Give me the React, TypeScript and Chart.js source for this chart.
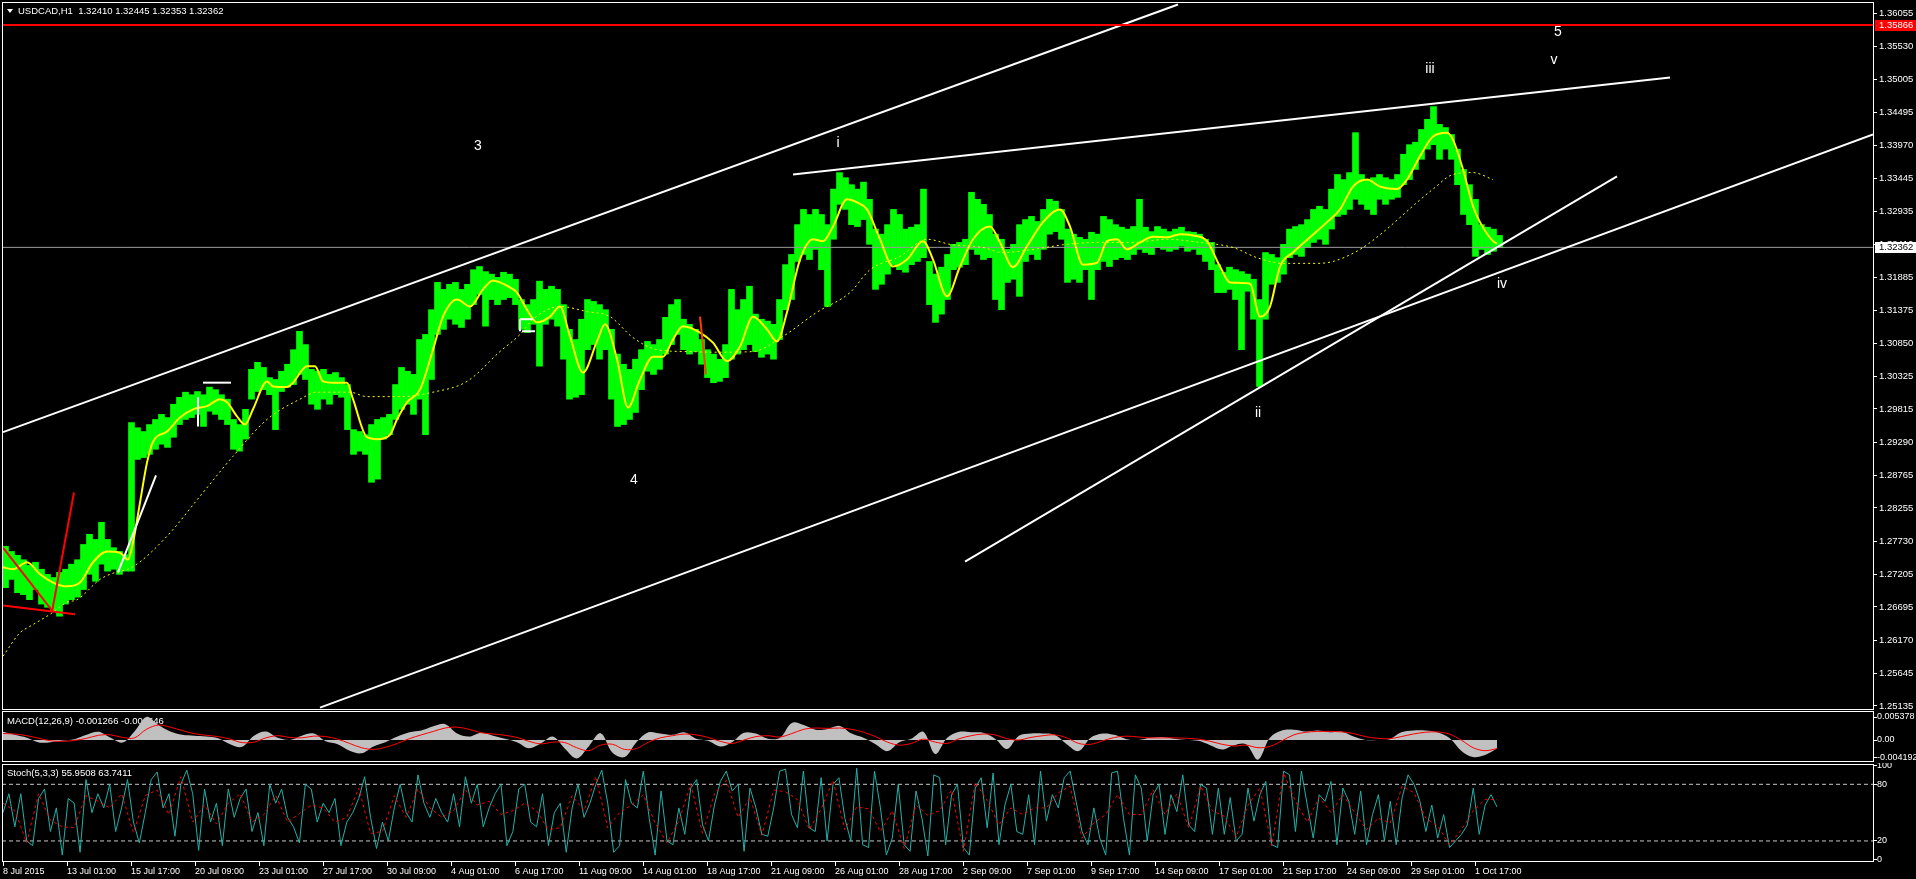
import React, { useEffect, useRef } from 'react';
import { Chart, registerables } from 'chart.js';

Chart.register(...registerables);

const FONT = 'Liberation Sans';
const X_MIN = -1;
const X_MAX = 1870;
const LAST_BAR = 1494;
const BUCKET = 6;

// ---- Price (H1 bars grouped by 6 hours), values in 0.0001 units ----
const HIGH_PIPS = [
  12765, 12757, 12751, 12744, 12735, 12740, 12729, 12721, 12716, 12724,
  12729, 12737, 12744, 12768, 12784, 12776, 12803, 12776, 12763, 12757,
  12752, 12960, 12952, 12946, 12957, 12965, 12973, 12968, 12989, 13000,
  13008, 13004, 13009, 13004, 13016, 13012, 13004, 12997, 12965, 12957,
  12981, 13044, 13055, 13047, 13031, 13028, 13041, 13052, 13075, 13104,
  13083, 13044, 13041, 13044, 13036, 13039, 13031, 13020, 12949, 12946,
  12941, 12957, 12965, 12968, 12973, 13020, 13047, 13041, 13036, 13091,
  13099, 13138, 13181, 13170, 13178, 13181, 13170, 13178, 13201, 13206,
  13198, 13194, 13189, 13197, 13194, 13186, 13154, 13146, 13154, 13183,
  13170, 13175, 13170, 13146, 13107, 13091, 13123, 13154, 13151, 13146,
  13138, 13107, 13068, 13052, 13044, 13060, 13075, 13088, 13083, 13091,
  13126, 13146, 13154, 13123, 13115, 13107, 13091, 13075, 13068, 13060,
  13083, 13170, 13138, 13154, 13175, 13131, 13123, 13120, 13115, 13154,
  13209, 13225, 13272, 13296, 13288, 13296, 13288, 13272, 13328, 13354,
  13346, 13335, 13328, 13339, 13312, 13265, 13257, 13272, 13296, 13288,
  13265, 13268, 13272, 13328, 13214, 13194, 13205, 13225, 13241, 13244,
  13249, 13323, 13312, 13304, 13288, 13257, 13249, 13233, 13241, 13272,
  13280, 13285, 13277, 13296, 13312, 13309, 13296, 13265, 13257, 13252,
  13249, 13260, 13257, 13285, 13280, 13272, 13268, 13265, 13269, 13312,
  13268, 13261, 13269, 13265, 13261, 13265, 13268, 13261, 13260, 13257,
  13249, 13244, 13209, 13197, 13205, 13201, 13198, 13194, 13186, 13154,
  13228, 13225, 13220, 13241, 13265, 13269, 13272, 13280, 13296, 13301,
  13296, 13328, 13351, 13343, 13354, 13417, 13351, 13343, 13346, 13351,
  13346, 13343, 13351, 13383, 13398, 13402, 13422, 13438, 13458, 13430,
  13425, 13414, 13391, 13359, 13335, 13312, 13272, 13268, 13265, 13255,
];
const LOW_PIPS = [
  12700, 12713, 12692, 12689, 12681, 12697, 12674, 12669, 12662, 12655,
  12674, 12681, 12685, 12697, 12721, 12710, 12737, 12726, 12729, 12721,
  12726, 12726, 12902, 12905, 12910, 12918, 12926, 12921, 12937, 12957,
  12965, 12968, 12973, 12954, 12978, 12973, 12965, 12957, 12918, 12915,
  12934, 12997, 13009, 13012, 13004, 12949, 13009, 13016, 13020, 13036,
  13028, 12989, 12981, 12997, 12989, 13004, 13000, 12949, 12910, 12915,
  12910, 12866, 12871, 12934, 12941, 12965, 12981, 12989, 12973, 12997,
  12941, 13028, 13099, 13107, 13123, 13115, 13110, 13123, 13146, 13162,
  13112, 13154, 13146, 13154, 13157, 13146, 13107, 13102, 13115, 13049,
  13115, 13123, 13112, 13060, 12997, 13000, 13004, 13075, 13083, 13060,
  13075, 12997, 12954, 12957, 12965, 12976, 13012, 13041, 13036, 13044,
  13068, 13083, 13099, 13075, 13068, 13072, 13052, 13031, 13023, 13025,
  13031, 13060, 13068, 13075, 13083, 13072, 13063, 13068, 13060, 13091,
  13138, 13154, 13214, 13225, 13217, 13233, 13201, 13143, 13249, 13304,
  13296, 13272, 13269, 13280, 13241, 13170, 13178, 13194, 13209, 13201,
  13197, 13209, 13214, 13220, 13146, 13118, 13131, 13154, 13201, 13205,
  13209, 13233, 13225, 13217, 13220, 13154, 13138, 13181, 13186, 13159,
  13214, 13225, 13217, 13233, 13257, 13261, 13249, 13181, 13186, 13181,
  13201, 13154, 13201, 13214, 13206, 13217, 13220, 13217, 13225, 13233,
  13228, 13225, 13236, 13233, 13230, 13233, 13238, 13230, 13233, 13225,
  13214, 13201, 13165, 13165, 13170, 13154, 13075, 13167, 13123, 13017,
  13123, 13178, 13181, 13194, 13220, 13225, 13222, 13236, 13244, 13249,
  13241, 13265, 13285, 13288, 13296, 13312, 13304, 13296, 13288, 13312,
  13304, 13312, 13315, 13335, 13343, 13359, 13375, 13391, 13398, 13375,
  13391, 13375, 13335, 13288, 13272, 13222, 13233, 13225, 13230, 13236,
];

// ---- Moving averages (bar index, price in 0.0001 units) ----
const FAST_MA_BARS = [
  0, 10, 24, 37, 50, 64, 77, 90, 104, 117, 125, 130, 137, 144, 150, 164, 177, 190, 204, 217,
  224, 234, 242, 250, 264, 270, 284, 290, 304, 312, 320, 330, 344, 350, 364, 374, 387, 394, 404, 417,
  430, 440, 454, 467, 480, 490, 497, 507, 514, 524, 534, 547, 557, 567, 580, 594, 602, 614, 625, 637,
  650, 660, 670, 680, 697, 710, 724, 737, 750, 764, 774, 784, 797, 810, 820, 830, 844, 854, 864, 877,
  890, 904, 920, 930, 944, 957, 970, 987, 997, 1010, 1024, 1040, 1057, 1067, 1080, 1094, 1104, 1114, 1124, 1137,
  1150, 1164, 1177, 1190, 1204, 1217, 1227, 1247, 1257, 1267, 1277, 1290, 1307, 1324, 1337, 1350, 1364, 1377, 1394, 1404,
  1417, 1430, 1444, 1450, 1460, 1470, 1477, 1490, 1494,
];
const FAST_MA_PIPS = [
  12732, 12729, 12740, 12721, 12708, 12702, 12708, 12740, 12757, 12755, 12744, 12771, 12834, 12897, 12930, 12946, 12968, 12981, 12986, 12997,
  12992, 12970, 12957, 12981, 13025, 13017, 13016, 13023, 13049, 13049, 13025, 13023, 13023, 12997, 12937, 12934, 12941, 12965, 12992, 13012,
  13075, 13127, 13154, 13143, 13170, 13184, 13181, 13173, 13165, 13138, 13118, 13127, 13143, 13096, 13039, 13088, 13115, 13060, 12984, 13028,
  13064, 13064, 13091, 13112, 13102, 13086, 13057, 13080, 13127, 13107, 13088, 13134, 13217, 13249, 13246, 13269, 13312, 13307, 13296, 13249,
  13206, 13217, 13246, 13217, 13159, 13206, 13249, 13269, 13244, 13205, 13238, 13276, 13296, 13269, 13209, 13212, 13246, 13249, 13233, 13244,
  13253, 13252, 13257, 13255, 13246, 13206, 13181, 13179, 13127, 13143, 13206, 13228, 13252, 13276, 13296, 13332, 13343, 13332, 13328, 13343,
  13380, 13411, 13417, 13406, 13359, 13301, 13276, 13246, 13242,
];
const SLOW_MA_BARS = [
  0, 17, 27, 47, 64, 74, 97, 107, 130, 164, 197, 230, 264, 297, 314, 330, 347, 364, 397, 430,
  464, 497, 517, 530, 557, 584, 607, 630, 654, 684, 714, 750, 780, 814, 847, 867, 897, 924, 947, 980,
  1000, 1030, 1064, 1097, 1130, 1164, 1197, 1230, 1254, 1280, 1314, 1330, 1357, 1380, 1414, 1430, 1450, 1470, 1490,
];
const SLOW_MA_PIPS = [
  12592, 12629, 12639, 12658, 12677, 12681, 12713, 12721, 12733, 12781, 12844, 12907, 12965, 12997, 13008, 13008, 13008, 13001, 13001, 13008,
  13025, 13072, 13099, 13123, 13143, 13135, 13127, 13094, 13075, 13072, 13071, 13072, 13096, 13134, 13165, 13201, 13222, 13249, 13241, 13236,
  13228, 13233, 13241, 13244, 13244, 13249, 13244, 13236, 13220, 13211, 13211, 13214, 13233, 13260, 13307, 13328, 13351, 13354, 13343,
];

// ---- Drawn objects (bar index, price in 0.0001 units) ----
const TREND_LINES = [
  { from: [0, 12945], to: [1175, 13619], color: '#ffffff', width: 2 },
  { from: [317, 12511], to: [1870, 13414], color: '#ffffff', width: 2 },
  { from: [790, 13351], to: [1667, 13504], color: '#ffffff', width: 2 },
  { from: [962, 12741], to: [1614, 13348], color: '#ffffff', width: 2 },
  { from: [0, 12672], to: [72, 12658], color: '#ff0000', width: 2 },
  { from: [0, 12763], to: [50, 12662], color: '#ff0000', width: 2 },
  { from: [49, 12662], to: [71, 12850], color: '#ff0000', width: 2 },
  { from: [115, 12724], to: [153, 12877], color: '#ffffff', width: 2 },
  { from: [200, 13023], to: [228, 13023], color: '#ffffff', width: 2 },
  { from: [195, 13000], to: [195, 12954], color: '#ffffff', width: 2 },
  { from: [517, 13123], to: [530, 13123], color: '#ffffff', width: 2 },
  { from: [519, 13104], to: [532, 13104], color: '#ffffff', width: 2 },
  { from: [517, 13123], to: [517, 13104], color: '#ffffff', width: 2 },
  { from: [697, 13127], to: [703, 13036], color: '#ff3c00', width: 2 },
];
const WAVE_LABELS = [
  { text: '3', bar: 475, pips: 13395 },
  { text: '4', bar: 631, pips: 12869 },
  { text: 'i', bar: 835, pips: 13400 },
  { text: 'ii', bar: 1255, pips: 12975 },
  { text: 'iii', bar: 1427, pips: 13517 },
  { text: 'iv', bar: 1499, pips: 13179 },
  { text: 'v', bar: 1551, pips: 13531 },
  { text: '5', bar: 1555, pips: 13575 },
];
const RED_LEVEL = 1.35866;
const BID = 1.32362;

const PRICE_TICKS = [
  1.36055, 1.3553, 1.35005, 1.34495, 1.3397, 1.33445, 1.32935, 1.3241, 1.31885, 1.31375, 1.3085,
  1.30325, 1.29815, 1.2929, 1.28765, 1.28255, 1.2773, 1.27205, 1.26695, 1.2617, 1.25645, 1.25135,
];
const TIME_TICK_STEP = 64;
const TIME_LABELS = [
  '8 Jul 2015', '13 Jul 01:00', '15 Jul 17:00', '20 Jul 09:00', '23 Jul 01:00', '27 Jul 17:00',
  '30 Jul 09:00', '4 Aug 01:00', '6 Aug 17:00', '11 Aug 09:00', '14 Aug 01:00', '18 Aug 17:00',
  '21 Aug 09:00', '26 Aug 01:00', '28 Aug 17:00', '2 Sep 09:00', '7 Sep 01:00', '9 Sep 17:00',
  '14 Sep 09:00', '17 Sep 01:00', '21 Sep 17:00', '24 Sep 09:00', '29 Sep 01:00', '1 Oct 17:00',
];

// ---- MACD (0.0001 units), sampled evenly over the bars ----
const MACD_HIST = [
  19, 12, 5, -6, -5, -1, 2, 12, 19, 5, -6, 20, 54, 35, 20, 12, 10, 8, 4, -10,
  -16, 10, 20, 5, 0, 10, 15, -3, -10, -25, -31, -15, -5, 8, 18, 22, 32, 37, 15, 8,
  17, 10, 3, -5, -19, -8, 8, -20, -43, -15, 16, -30, -40, -5, 18, 15, 12, 18, 3, -2,
  -15, -5, 17, 15, 3, 5, 40, 35, 24, 26, 33, 15, 5, -10, -26, -5, 3, 19, -33, 5,
  19, 18, 17, 3, -21, 10, 15, 15, 12, -10, -26, 5, 15, 12, 2, 0, 5, 7, 3, 0,
  -2, -12, -22, -12, -10, -46, 5, 22, 24, 20, 22, 18, 20, 8, 0, 0, 2, 18, 22, 22,
  18, 5, -25, -40, -35, -20,
];
const MACD_SIGNAL = [
  15, 14, 10, 4, -2, -3, -1, 4, 11, 12, 6, 5, 25, 35, 30, 22, 15, 11, 8, 2,
  -6, -5, 5, 10, 6, 5, 9, 8, 2, -8, -18, -22, -17, -8, 3, 12, 20, 28, 30, 25,
  17, 14, 11, 6, -3, -9, -5, -6, -18, -25, -12, -10, -22, -20, -5, 5, 10, 14, 12, 6,
  -3, -8, 0, 8, 10, 7, 15, 25, 28, 27, 28, 25, 18, 8, -5, -12, -8, 2, -5, -8,
  3, 10, 14, 12, 3, 0, 6, 10, 12, 5, -8, -10, -2, 6, 9, 7, 5, 5, 5, 4,
  2, -3, -10, -14, -12, -18, -15, -2, 12, 18, 20, 20, 19, 15, 8, 4, 3, 8, 14, 18,
  19, 14, 0, -18, -25, -20,
];
const MACD_TICKS = [0.005378, 0, -0.004192];
const MACD_TICK_LABELS = ['0.005378', '0.00', '-0.004192'];

// ---- Stochastic ----
const STOCH_K = [
  50, 70, 35, 70, 20, 15, 65, 75, 30, 55, 5, 65, 60, 8, 85, 50, 70, 55, 80, 30,
  55, 85, 40, 18, 50, 85, 93, 55, 70, 25, 80, 95, 70, 10, 75, 40, 60, 15, 75, 45,
  65, 75, 30, 50, 15, 80, 60, 75, 45, 35, 18, 80, 75, 40, 60, 50, 65, 15, 40, 50,
  65, 88, 45, 12, 40, 20, 55, 80, 50, 40, 90, 60, 45, 65, 50, 40, 70, 35, 88, 60,
  80, 35, 55, 70, 80, 15, 30, 75, 80, 40, 35, 70, 15, 50, 60, 8, 55, 80, 45, 60,
  80, 95, 60, 8, 15, 85, 60,
  55, 94, 44, 5, 73, 20, 16, 55, 27, 76, 85, 37, 20, 58, 83, 94, 73, 80, 9, 76,
  55, 27, 25, 55, 94, 96, 48, 34, 94, 34, 30, 87, 20, 80, 87, 44, 20, 97, 16, 13,
  94, 55, 5, 23, 80, 16, 9, 73, 44, 4, 90, 87, 16, 69, 80, 13, 5, 76, 87, 34,
  92, 16, 58, 80, 30, 27, 69, 16, 94, 41, 69, 55, 87, 94, 62, 30, 16, 55, 23, 5,
  92, 94, 44, 5, 90, 76, 20, 69, 80, 27, 69, 51, 90, 37, 30, 80, 76, 27, 76, 27,
  66, 20, 27, 76, 41, 69, 83, 16, 13, 94, 90, 30, 94, 58, 23, 69, 62, 83, 16, 76,
  62, 27, 73, 16, 48, 69, 20, 62, 16, 66, 90, 80, 62, 30, 58, 23, 48, 13, 20, 27,
  37, 76, 27, 58, 69, 56,
];
const STOCH_D = [
  60, 52, 18, 70, 42, 35, 34, 68, 62, 55, 70, 29, 68, 74, 48, 88, 40, 58, 38, 60,
  70, 40, 48, 68, 40, 49, 58, 55, 40, 45, 76, 28, 30, 68, 45, 75, 55, 45, 52, 74,
  58, 62, 48, 52, 60, 52, 32, 34, 68, 52, 88, 34, 50, 58,
  69, 39, 18, 41, 80, 28, 70, 84, 45, 66, 26, 74, 72, 64, 32, 54, 84, 32, 56, 54,
  30, 52, 12, 58, 47, 52, 74, 9, 82, 63, 37, 55, 48, 55, 55, 71, 78, 23, 39, 48,
  69, 48, 48, 74, 48, 70, 34, 78, 52, 46, 24, 58, 76, 15, 92, 62, 40, 66, 50, 69,
  50, 32, 44, 39, 78, 71, 44, 36, 16, 32, 52, 64, 64,
];
const STOCH_LEVELS = [80, 20];
const STOCH_TICKS = [100, 80, 20, 0];

// ---------------------------------------------------------------------------
const toPrice = (p: number) => p / 10000;
const spread = (vals: number[]) => vals.map((v, i) => ({ x: (i * LAST_BAR) / (vals.length - 1), y: v }));

const commonOptions = {
  responsive: false,
  animation: false as const,
  devicePixelRatio: 1,
  events: [] as any[],
  plugins: { legend: { display: false }, tooltip: { enabled: false } },
};

const hiddenX = {
  type: 'linear' as const,
  min: X_MIN,
  max: X_MAX,
  offset: false,
  display: false,
};

function rightAxis(min: number, max: number, ticks: number[], labels: (v: number, i: number) => string, pad: number, size: number) {
  return {
    type: 'linear' as const,
    position: 'right' as const,
    min,
    max,
    afterBuildTicks: (s: any) => {
      s.ticks = ticks.map((v) => ({ value: v }));
    },
    afterFit: (s: any) => {
      s.width = 43;
      s.paddingTop = 0;
      s.paddingBottom = 0;
    },
    ticks: {
      autoSkip: false,
      color: '#ffffff',
      padding: pad,
      font: { family: FONT, size },
      callback: (v: any, i: number) => labels(Number(v), i),
    },
    grid: { drawOnChartArea: false, drawTicks: true, tickLength: 4, color: '#ffffff' },
    border: { display: false },
  };
}

const borderPlugin = {
  id: 'panelBorder',
  afterDraw(chart: any) {
    const { ctx, chartArea: a } = chart;
    ctx.save();
    ctx.strokeStyle = '#ffffff';
    ctx.lineWidth = 1;
    ctx.strokeRect(a.left + 0.5, a.top + 0.5, a.right - a.left, a.bottom - a.top - 1);
    ctx.restore();
  },
};

function makeMain(canvas: HTMLCanvasElement) {
  const priceData = HIGH_PIPS.map((h, i) => ({
    x: i * BUCKET + (BUCKET - 1) / 2,
    y: [toPrice(LOW_PIPS[i]), toPrice(h)],
  }));
  const lineDs = (data: any[], color: string, width: number, order: number, extra: any = {}) => ({
    type: 'line' as const,
    data,
    borderColor: color,
    borderWidth: width,
    pointRadius: 0,
    fill: false,
    order,
    ...extra,
  });
  const datasets: any[] = [
    lineDs([{ x: X_MIN, y: RED_LEVEL }, { x: X_MAX, y: RED_LEVEL }], '#ff0000', 2, 1),
    ...TREND_LINES.map((t) =>
      lineDs(
        [
          { x: t.from[0], y: toPrice(t.from[1]) },
          { x: t.to[0], y: toPrice(t.to[1]) },
        ],
        t.color,
        t.width,
        2,
      ),
    ),
    lineDs(
      FAST_MA_BARS.map((b, i) => ({ x: b, y: toPrice(FAST_MA_PIPS[i]) })),
      '#ffff00',
      2,
      4,
      { cubicInterpolationMode: 'monotone' },
    ),
    lineDs(
      SLOW_MA_BARS.map((b, i) => ({ x: b, y: toPrice(SLOW_MA_PIPS[i]) })),
      '#ffff00',
      1,
      5,
      { cubicInterpolationMode: 'monotone', borderDash: [2, 3] },
    ),
    lineDs([{ x: X_MIN, y: BID }, { x: X_MAX, y: BID }], '#9c9c9c', 1, 6),
    {
      type: 'bar' as const,
      data: priceData,
      backgroundColor: '#00ff00',
      borderWidth: 0,
      barThickness: 6,
      grouped: false,
      order: 10,
    },
  ];

  const annot = {
    id: 'mainAnnot',
    afterDatasetsDraw(chart: any) {
      const { ctx } = chart;
      const xs = chart.scales.x;
      const ys = chart.scales.y;
      ctx.save();
      ctx.fillStyle = '#ffffff';
      ctx.font = `14px "${FONT}"`;
      ctx.textAlign = 'center';
      ctx.textBaseline = 'middle';
      WAVE_LABELS.forEach((l) => {
        ctx.fillText(l.text, xs.getPixelForValue(l.bar), ys.getPixelForValue(toPrice(l.pips)));
      });
      // title
      ctx.beginPath();
      ctx.moveTo(7, 9);
      ctx.lineTo(13, 9);
      ctx.lineTo(10, 13);
      ctx.closePath();
      ctx.fill();
      ctx.font = `9.5px "${FONT}"`;
      ctx.textAlign = 'left';
      ctx.fillText('USDCAD,H1  1.32410 1.32445 1.32353 1.32362', 18, 11);
      ctx.restore();
    },
    afterDraw(chart: any) {
      const { ctx } = chart;
      const ys = chart.scales.y;
      ctx.save();
      ctx.font = `9.5px "${FONT}"`;
      ctx.textBaseline = 'middle';
      ctx.textAlign = 'left';
      const box = (v: number, bg: string, fg: string) => {
        const y = Math.round(ys.getPixelForValue(v));
        ctx.fillStyle = bg;
        ctx.fillRect(1875, y - 5, 41, 11);
        ctx.fillStyle = fg;
        ctx.fillText(v.toFixed(5), 1879, y + 0.5);
      };
      box(RED_LEVEL, '#ff0000', '#ffffff');
      box(BID, '#ffffff', '#000000');
      ctx.restore();
    },
  };

  return new Chart(canvas, {
    type: 'line',
    data: { datasets },
    options: {
      ...commonOptions,
      layout: { padding: { left: 2, top: 2, right: 0, bottom: 1 } },
      scales: {
        x: hiddenX,
        y: rightAxis(1.250718, 1.362285, PRICE_TICKS, (v) => v.toFixed(5), 2, 9.5),
      },
    } as any,
    plugins: [annot, borderPlugin],
  });
}

function makeMacd(canvas: HTMLCanvasElement) {
  const title = {
    id: 'macdTitle',
    beforeDatasetsDraw(chart: any) {
      const { ctx } = chart;
      ctx.save();
      ctx.fillStyle = '#ffffff';
      ctx.font = `9.5px "${FONT}"`;
      ctx.textBaseline = 'middle';
      ctx.fillText('MACD(12,26,9) -0.001266 -0.001646', 7, 10);
      ctx.restore();
    },
  };
  return new Chart(canvas, {
    type: 'line',
    data: {
      datasets: [
        {
          data: spread(MACD_SIGNAL.map((v) => v / 10000)),
          borderColor: '#ff0000',
          borderWidth: 1,
          pointRadius: 0,
          tension: 0.35,
          fill: false,
          order: 1,
        },
        {
          data: spread(MACD_HIST.map((v) => v / 10000)),
          borderWidth: 0,
          borderColor: 'rgba(0,0,0,0)',
          backgroundColor: '#c0c0c0',
          pointRadius: 0,
          tension: 0.35,
          fill: 'origin',
          order: 2,
        },
      ],
    },
    options: {
      ...commonOptions,
      layout: { padding: { left: 2, top: 0, right: 0, bottom: 1 } },
      scales: {
        x: hiddenX,
        y: rightAxis(-0.005144, 0.006781, MACD_TICKS, (_v, i) => MACD_TICK_LABELS[i], 0, 9),
      },
    } as any,
    plugins: [title, borderPlugin],
  });
}

function makeStoch(canvas: HTMLCanvasElement) {
  const title = {
    id: 'stochTitle',
    beforeDatasetsDraw(chart: any) {
      const { ctx } = chart;
      ctx.save();
      ctx.fillStyle = '#ffffff';
      ctx.font = `9.5px "${FONT}"`;
      ctx.textBaseline = 'middle';
      ctx.fillText('Stoch(5,3,3) 55.9508 63.7411', 7, 10);
      ctx.restore();
    },
  };
  const levelSets = STOCH_LEVELS.map((lv) => ({
    data: [
      { x: X_MIN, y: lv },
      { x: X_MAX, y: lv },
    ],
    borderColor: '#c8c8c8',
    borderWidth: 1,
    borderDash: [4, 3],
    pointRadius: 0,
    fill: false,
    order: 3,
  }));
  return new Chart(canvas, {
    type: 'line',
    data: {
      datasets: [
        {
          data: spread(STOCH_D),
          borderColor: '#ff0000',
          borderWidth: 1,
          borderDash: [3, 3],
          pointRadius: 0,
          tension: 0,
          fill: false,
          order: 1,
        },
        {
          data: spread(STOCH_K),
          borderColor: '#20b2aa',
          borderWidth: 1,
          pointRadius: 0,
          tension: 0,
          fill: false,
          order: 2,
        },
        ...levelSets,
      ],
    },
    options: {
      ...commonOptions,
      layout: { padding: { left: 2, top: 1, right: 0, bottom: 0 } },
      scales: {
        x: {
          type: 'linear',
          position: 'bottom',
          min: X_MIN,
          max: X_MAX,
          offset: false,
          afterBuildTicks: (s: any) => {
            s.ticks = TIME_LABELS.map((_l, i) => ({ value: i * TIME_TICK_STEP }));
          },
          afterFit: (s: any) => {
            s.height = 17;
            s.paddingLeft = 0;
            s.paddingRight = 0;
          },
          ticks: {
            autoSkip: false,
            maxRotation: 0,
            minRotation: 0,
            align: 'start',
            padding: 0,
            color: '#ffffff',
            font: { family: FONT, size: 9 },
            callback: (_v: any, i: number) => TIME_LABELS[i],
          },
          grid: { drawOnChartArea: false, drawTicks: true, tickLength: 4, color: '#ffffff' },
          border: { display: false },
        },
        y: rightAxis(-2.3, 101.5, STOCH_TICKS, (v) => String(v), 0, 9),
      },
    } as any,
    plugins: [title, borderPlugin],
  });
}

export default function App() {
  const mainRef = useRef<HTMLCanvasElement>(null);
  const macdRef = useRef<HTMLCanvasElement>(null);
  const stochRef = useRef<HTMLCanvasElement>(null);

  useEffect(() => {
    const charts = [makeMain(mainRef.current!), makeMacd(macdRef.current!), makeStoch(stochRef.current!)];
    return () => charts.forEach((c) => c.destroy());
  }, []);

  return (
    <div
      style={{
        position: 'fixed',
        left: 0,
        top: 0,
        width: 1916,
        height: 879,
        background: '#000000',
        overflow: 'hidden',
      }}
    >
      <canvas ref={mainRef} width={1916} height={711} style={{ position: 'absolute', left: 0, top: 0 }} />
      <canvas ref={macdRef} width={1916} height={52} style={{ position: 'absolute', left: 0, top: 711 }} />
      <canvas ref={stochRef} width={1916} height={116} style={{ position: 'absolute', left: 0, top: 763 }} />
    </div>
  );
}
